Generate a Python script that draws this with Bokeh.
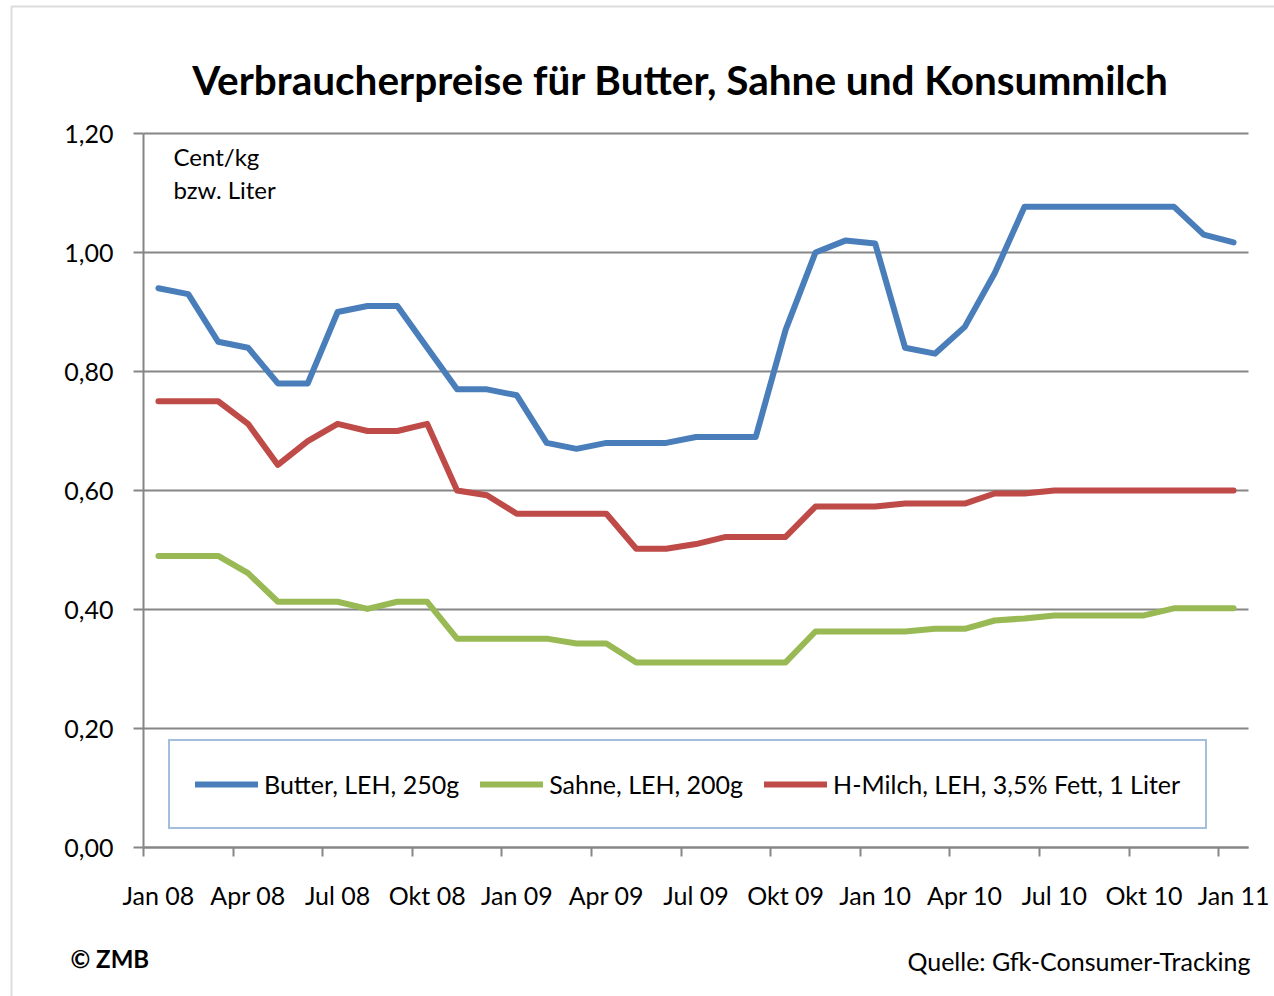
from bokeh.plotting import figure
from bokeh.models import (Range1d, FixedTicker, Legend, LegendItem, Label, LinearAxis, Grid,
                          ColumnDataSource, BoxAnnotation)
from bokeh.embed import file_html
from bokeh.resources import INLINE

# ---------------- data ----------------
months = ["Jan 08", "Feb 08", "Mär 08", "Apr 08", "Mai 08", "Jun 08", "Jul 08", "Aug 08",
          "Sep 08", "Okt 08", "Nov 08", "Dez 08", "Jan 09", "Feb 09", "Mär 09", "Apr 09",
          "Mai 09", "Jun 09", "Jul 09", "Aug 09", "Sep 09", "Okt 09", "Nov 09", "Dez 09",
          "Jan 10", "Feb 10", "Mär 10", "Apr 10", "Mai 10", "Jun 10", "Jul 10", "Aug 10",
          "Sep 10", "Okt 10", "Nov 10", "Dez 10", "Jan 11"]

butter = [0.94, 0.93, 0.85, 0.84, 0.78, 0.78, 0.90, 0.91, 0.91, 0.84, 0.77, 0.77, 0.76,
          0.68, 0.67, 0.68, 0.68, 0.68, 0.69, 0.69, 0.69, 0.87, 1.00, 1.02, 1.015, 0.84,
          0.83, 0.875, 0.965, 1.077, 1.077, 1.077, 1.077, 1.077, 1.077, 1.03, 1.017]

hmilch = [0.75, 0.75, 0.75, 0.712, 0.643, 0.683, 0.712, 0.70, 0.70, 0.712, 0.60, 0.592,
          0.561, 0.561, 0.561, 0.561, 0.502, 0.502, 0.51, 0.522, 0.522, 0.522, 0.573, 0.573,
          0.573, 0.578, 0.578, 0.578, 0.595, 0.595, 0.60, 0.60, 0.60, 0.60, 0.60, 0.60, 0.60]

sahne = [0.49, 0.49, 0.49, 0.461, 0.413, 0.413, 0.413, 0.401, 0.413, 0.413, 0.351, 0.351,
         0.351, 0.351, 0.343, 0.343, 0.311, 0.311, 0.311, 0.311, 0.311, 0.311, 0.363, 0.363,
         0.363, 0.363, 0.3675, 0.3675, 0.3815, 0.385, 0.39, 0.39, 0.39, 0.39, 0.402, 0.402, 0.402]

x_tick_labels = ["Jan 08", "Apr 08", "Jul 08", "Okt 08", "Jan 09", "Apr 09", "Jul 09",
                 "Okt 09", "Jan 10", "Apr 10", "Jul 10", "Okt 10", "Jan 11"]

y_ticks = [0.0, 0.2, 0.4, 0.6, 0.8, 1.0, 1.2]
y_tick_labels = ["0,00", "0,20", "0,40", "0,60", "0,80", "1,00", "1,20"]

series_names = ["Butter, LEH, 250g", "Sahne, LEH, 200g", "H-Milch, LEH, 3,5% Fett, 1 Liter"]

# ---------------- layout / styling ----------------
FONT = "Lato"
GRID = "#868686"
BLUE = "#4A7EBB"
GREEN = "#98B954"
RED = "#BE4B48"

W, H = 1274, 996                     # canvas
PL, PR, PT, PB = 143, 1248, 133, 847  # plot area in canvas pixels
n = len(months)
YMAX = 1.2
ux = (PR - PL) / n
uy = (PB - PT) / YMAX
x_range = Range1d(-PL / ux, n + (W - PR) / ux)
y_range = Range1d(-(H - PB) / uy, YMAX + PT / uy)

xs = [i + 0.5 for i in range(n)]
src = ColumnDataSource(dict(x=xs, butter=butter, sahne=sahne, hmilch=hmilch))

p = figure(width=W, height=H, output_backend="svg", toolbar_location=None, title=None,
           x_range=x_range, y_range=y_range, x_axis_type=None, y_axis_type=None,
           min_border=0)
p.outline_line_color = None
p.background_fill_color = "white"
p.border_fill_color = "white"

# gridlines
p.add_layout(Grid(dimension=1, ticker=FixedTicker(ticks=y_ticks), cross_bounds=(0, n),
                  grid_line_color=GRID, grid_line_width=2))

# y axis
yax = LinearAxis(ticker=FixedTicker(ticks=y_ticks), fixed_location=0, bounds=(0, YMAX))
yax.major_label_overrides = {t: l for t, l in zip(y_ticks, y_tick_labels)}
yax.axis_line_color = GRID
yax.axis_line_width = 2
yax.major_tick_line_color = GRID
yax.major_tick_line_width = 2
yax.major_tick_out = 10
yax.major_tick_in = 0
yax.minor_tick_line_color = None
yax.major_label_text_font = FONT
yax.major_label_text_font_size = "25px"
yax.major_label_text_color = "black"
yax.major_label_standoff = 20
p.add_layout(yax, "left")

# x axis: ticks on category boundaries
bound_ticks = list(range(0, n, 3))
xax = LinearAxis(ticker=FixedTicker(ticks=bound_ticks), fixed_location=0, bounds=(0, n))
xax.major_label_overrides = {t: "" for t in bound_ticks}
xax.axis_line_color = GRID
xax.axis_line_width = 2
xax.major_tick_line_color = GRID
xax.major_tick_line_width = 2
xax.major_tick_out = 9
xax.major_tick_in = 0
xax.minor_tick_line_color = None
p.add_layout(xax, "below")

# x axis: labels at category centres
lab_pos = [months.index(m) + 0.5 for m in x_tick_labels]
xlab = LinearAxis(ticker=FixedTicker(ticks=lab_pos), fixed_location=0)
xlab.major_label_overrides = {t: l for t, l in zip(lab_pos, x_tick_labels)}
xlab.axis_line_color = None
xlab.major_tick_line_color = None
xlab.minor_tick_line_color = None
xlab.major_tick_out = 0
xlab.major_tick_in = 0
xlab.major_label_text_font = FONT
xlab.major_label_text_font_size = "25px"
xlab.major_label_text_color = "black"
xlab.major_label_standoff = 32
p.add_layout(xlab, "below")

# lines
r_b = p.line("x", "butter", source=src, line_color=BLUE, line_width=6,
             line_cap="round", line_join="round")
r_s = p.line("x", "sahne", source=src, line_color=GREEN, line_width=6,
             line_cap="round", line_join="round")
r_h = p.line("x", "hmilch", source=src, line_color=RED, line_width=6,
             line_cap="round", line_join="round")

legend = Legend(items=[LegendItem(label=series_names[0], renderers=[r_b]),
                       LegendItem(label=series_names[1], renderers=[r_s]),
                       LegendItem(label=series_names[2], renderers=[r_h])],
                location=(168, H - 829), orientation="horizontal")
legend.label_text_font = FONT
legend.label_text_font_size = "25px"
legend.label_text_color = "black"
legend.label_standoff = 6
legend.glyph_width = 63
legend.glyph_height = 36
legend.label_height = 36
legend.padding = 25
legend.spacing = 21
legend.margin = 0
legend.border_line_color = "#4A7EBB"
legend.border_line_width = 2
legend.background_fill_color = "white"
legend.background_fill_alpha = 1
p.add_layout(legend)

# title and annotations (screen units from bottom-left of canvas)
p.add_layout(Label(x=680, y=H - 79, x_units="screen", y_units="screen",
                   text="Verbraucherpreise für Butter, Sahne und Konsummilch",
                   text_align="center", text_baseline="middle",
                   text_font=FONT, text_font_style="bold", text_font_size="40.5px",
                   text_color="black"))
p.add_layout(Label(x=173, y=H - 156, x_units="screen", y_units="screen", text="Cent/kg",
                   text_baseline="middle", text_font=FONT, text_font_size="24px",
                   text_color="black"))
p.add_layout(Label(x=173, y=H - 189, x_units="screen", y_units="screen", text="bzw. Liter",
                   text_baseline="middle", text_font=FONT, text_font_size="24px",
                   text_color="black"))
p.add_layout(Label(x=70, y=H - 958, x_units="screen", y_units="screen", text="© ZMB",
                   text_baseline="middle", text_font=FONT, text_font_style="bold",
                   text_font_size="24px", text_color="black"))
p.add_layout(Label(x=1250, y=H - 960, x_units="screen", y_units="screen",
                   text="Quelle: Gfk-Consumer-Tracking", text_align="right",
                   text_baseline="middle", text_font=FONT, text_font_size="25px",
                   text_color="black"))

# outer chart border (left and top edges visible)
p.add_layout(BoxAnnotation(left=11, right=W + 50, top=H - 6, bottom=-50,
                           left_units="screen", right_units="screen",
                           top_units="screen", bottom_units="screen",
                           fill_alpha=0, line_color="#8C8C8C", line_width=2))

open("out.html", "w").write(file_html(p, INLINE))
